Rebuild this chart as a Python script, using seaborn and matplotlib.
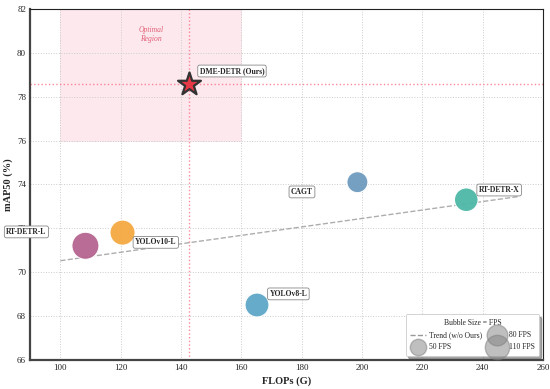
import matplotlib
matplotlib.use('Agg')
import matplotlib.pyplot as plt
from matplotlib.patches import Rectangle
from matplotlib.lines import Line2D
import seaborn as sns
import numpy as np
import pandas as pd

# Data
models = ['RT-DETR-L', 'YOLOv10-L', 'YOLOv8-L', 'CAGT', 'RT-DETR-X']
flops = [108.3, 120.6, 165.2, 198.5, 234.6]
map50 = [71.2, 71.8, 68.5, 74.1, 73.3]
fps = [100, 86, 78, 60, 76]
colors = ['#b5648f', '#f5a840', '#5ea7c6', '#6e9bbe', '#4db8a6']

ours_name = 'DME-DETR (Ours)'
ours_flops = 142.5
ours_map = 78.6

legend_fps = [50, 80, 110]

sns.set_style('white')
plt.rcParams['font.family'] = ['Liberation Serif', 'DejaVu Serif']

df = pd.DataFrame({'model': models, 'flops': flops, 'map50': map50, 'fps': fps})
k = 3.8  # bubble area per FPS

fig, ax = plt.subplots(figsize=(5.5, 3.89), dpi=100)
fig.subplots_adjust(left=0.055, right=0.987, top=0.977, bottom=0.075)

# optimal region
ax.add_patch(Rectangle((100, 76), 60, 6, facecolor='#f4a7b9', alpha=0.25,
                       edgecolor='#e06080', linestyle=':', linewidth=0.6, zorder=0))
ax.text(130, 80.85, 'Optimal\nRegion', ha='center', va='center', fontsize=5.5,
        style='italic', color='#e0506a', alpha=0.9)

sns.scatterplot(data=df, x='flops', y='map50', hue='model', palette=dict(zip(models, colors)),
                size='fps', sizes={f: f * k for f in fps}, alpha=0.95, edgecolor='white',
                linewidth=0.8, legend=False, ax=ax, zorder=3)

# trend line without ours
slope, inter = np.polyfit(flops, map50, 1)
xt = np.array([100, 252])
ax.plot(xt, slope * xt + inter, '--', color='#999999', linewidth=1.0, alpha=0.8, zorder=2)

# ours
ax.axvline(ours_flops, color='#ff6b81', linestyle=':', linewidth=1.0, alpha=0.8, zorder=1)
ax.axhline(ours_map, color='#ff6b81', linestyle=':', linewidth=1.0, alpha=0.8, zorder=1)
ax.scatter([ours_flops], [ours_map], marker='*', s=300, color='#e63946',
           edgecolor='#333333', linewidth=1.6, zorder=5)

bbox = dict(boxstyle='round,pad=0.25', facecolor='white', edgecolor='#888888', linewidth=0.6)
ax.annotate(ours_name, (ours_flops, ours_map), xytext=(8, 9), textcoords='offset points',
            fontsize=5.5, fontweight='bold', bbox=bbox, va='center', ha='left')
offsets = {'RT-DETR-L': (-28, 10, 'right'), 'YOLOv10-L': (9, -7, 'left'),
           'YOLOv8-L': (9, 8, 'left'), 'CAGT': (-32, -7, 'right'),
           'RT-DETR-X': (9, 7, 'left')}
for m, x, y in zip(models, flops, map50):
    dx, dy, ha = offsets[m]
    ax.annotate(m, (x, y), xytext=(dx, dy), textcoords='offset points', fontsize=5.5,
                fontweight='bold', bbox=bbox, va='center', ha=ha, zorder=6)

ax.set_xlim(90, 260)
ax.set_ylim(66, 82)
ax.set_xticks(range(100, 261, 20))
ax.set_yticks(range(66, 83, 2))
ax.tick_params(labelsize=6.5, length=0, pad=3)
ax.grid(True, linestyle=':', color='#cccccc', linewidth=0.7)
ax.set_axisbelow(True)
ax.set_xlabel('FLOPs (G)', fontsize=7.5, fontweight='bold', labelpad=3)
ax.set_ylabel('mAP50 (%)', fontsize=7.5, fontweight='bold', labelpad=3)
for s in ['left', 'bottom']:
    ax.spines[s].set_linewidth(1.6)
    ax.spines[s].set_color('#444444')
for s in ['top', 'right']:
    ax.spines[s].set_linewidth(0.8)
    ax.spines[s].set_color('#222222')

# legend
handles = [Line2D([0], [0], linestyle='--', color='#999999', linewidth=1.0, label='Trend (w/o Ours)')]
for f in legend_fps:
    handles.append(plt.scatter([], [], s=f * 2.8, color='gray', alpha=0.5, label=f'{f} FPS'))
leg = ax.legend(handles=handles, loc='lower right', ncol=2, fontsize=5.5,
                title='Bubble Size = FPS', title_fontsize=5.5, frameon=True, shadow=True,
                fancybox=True, borderpad=0.6, handletextpad=0.5, columnspacing=0.9,
                labelspacing=0.55, borderaxespad=0.5)
leg.get_frame().set_linewidth(0.6)

fig.savefig('out.png', dpi=100)
